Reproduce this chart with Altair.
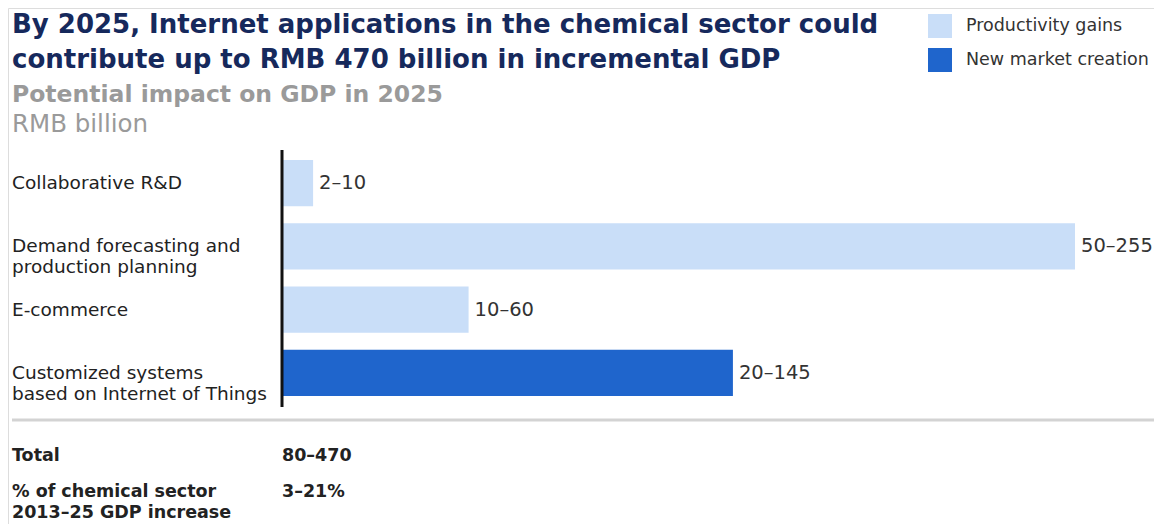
import altair as alt
import pandas as pd

# ---- data ----
categories = [
    "Collaborative R&D",
    "Demand forecasting and production planning",
    "E-commerce",
    "Customized systems based on Internet of Things",
]
category_labels = [
    "Collaborative R&D",
    "Demand forecasting and\nproduction planning",
    "E-commerce",
    "Customized systems\nbased on Internet of Things",
]
low_values = [2, 50, 10, 20]
high_values = [10, 255, 60, 145]
impact_types = ["Productivity gains", "Productivity gains", "Productivity gains", "New market creation"]
legend_items = ["Productivity gains", "New market creation"]
legend_colors = ["#c9def8", "#1f65cc"]

title_lines = [
    "By 2025, Internet applications in the chemical sector could",
    "contribute up to RMB 470 billion in incremental GDP",
]
subtitle_text = "Potential impact on GDP in 2025"
unit_text = "RMB billion"
total_name = "Total"
total_value = "80–470"
share_name = "% of chemical sector\n2013–25 GDP increase"
share_value = "3–21%"

FONT = "DejaVu Sans"

df = pd.DataFrame({
    "category": categories,
    "label": category_labels,
    "low": low_values,
    "high": high_values,
    "type": impact_types,
})
df["range_label"] = [f"{lo}–{hi}" for lo, hi in zip(low_values, high_values)]

x_scale = alt.Scale(domain=[0, 255], range=[274, 1067], nice=False, zero=True)
y_scale = alt.Scale(domain=categories, range=[143.5, 396.5], paddingInner=0.27, paddingOuter=0.135)

base = alt.Chart(df)

bars = base.mark_bar().encode(
    x=alt.X("high:Q", scale=x_scale, axis=None),
    y=alt.Y("category:N", scale=y_scale, axis=None),
    color=alt.Color(
        "type:N",
        scale=alt.Scale(domain=legend_items, range=legend_colors),
        legend=alt.Legend(
            title=None,
            orient="none",
            legendX=920,
            legendY=6,
            symbolType="square",
            symbolSize=576,
            symbolStrokeWidth=0,
            symbolOpacity=1,
            labelFontSize=17.5,
            labelFont=FONT,
            labelColor="#333333",
            labelOffset=14,
            labelLimit=400,
            rowPadding=10,
        ),
    ),
)

value_text = base.mark_text(
    align="left", baseline="middle", dx=6, fontSize=19.5, font=FONT, color="#333333"
).encode(
    x=alt.X("high:Q", scale=x_scale, axis=None),
    y=alt.Y("category:N", scale=y_scale, axis=None),
    text="range_label:N",
)

cat_text = base.mark_text(
    align="left", baseline="middle", lineBreak="\n", lineHeight=21,
    fontSize=18.5, font=FONT, color="#222222"
).encode(
    x=alt.value(4),
    y=alt.Y("category:N", scale=y_scale, axis=None),
    text="label:N",
)

axis_rule = alt.Chart(pd.DataFrame({"z": [0]})).mark_rule(
    color="#111111", strokeWidth=3
).encode(
    x=alt.X("z:Q", scale=x_scale, axis=None),
    y=alt.value(142),
    y2=alt.value(399),
)

sep_rule = alt.Chart(pd.DataFrame({"z": [0]})).mark_rule(
    color="#d3d3d3", strokeWidth=3
).encode(
    x=alt.value(4), x2=alt.value(1150), y=alt.value(412)
)


def text_layer(txt, x, y, size, weight, color, line_height=21):
    return alt.Chart(pd.DataFrame({"t": [txt]})).mark_text(
        align="left", baseline="alphabetic", fontSize=size, fontWeight=weight,
        font=FONT, color=color, lineBreak="\n", lineHeight=line_height,
    ).encode(x=alt.value(x), y=alt.value(y), text="t:N")


header = [
    text_layer(title_lines[0], 4, 25, 26, "bold", "#16295c"),
    text_layer(title_lines[1], 4, 60, 26, "bold", "#16295c"),
    text_layer(subtitle_text, 4, 94, 23.5, "bold", "#9a9a9a"),
    text_layer(unit_text, 4, 124, 24.5, "normal", "#9a9a9a"),
]
footer = [
    text_layer(total_name, 4, 453, 17.5, "bold", "#222222"),
    text_layer(total_value, 274, 453, 17.5, "bold", "#222222"),
    text_layer(share_name, 4, 489, 17.5, "bold", "#222222", 21),
    text_layer(share_value, 274, 489, 17.5, "bold", "#222222"),
]

chart = alt.layer(
    bars, value_text, cat_text, axis_rule, sep_rule, *header, *footer
).properties(
    width=1146, height=516, padding=0,
    autosize=alt.AutoSizeParams(type="none"),
).configure_view(stroke=None).configure(background="white")

chart.save("out.html", embed_options={"renderer": "svg", "actions": False})
